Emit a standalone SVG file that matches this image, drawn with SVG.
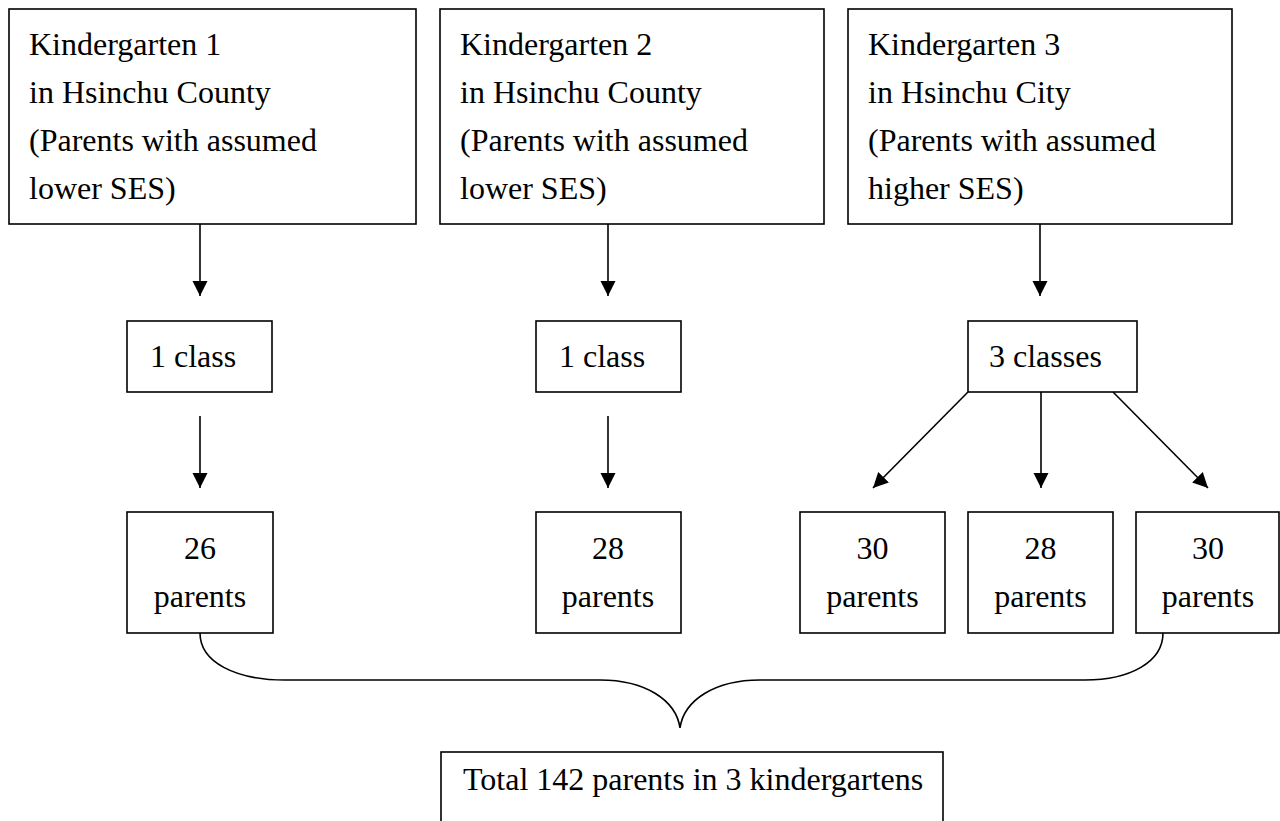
<svg xmlns="http://www.w3.org/2000/svg" width="1280" height="821" viewBox="0 0 1280 821">
<style>
  .box{fill:#fff;stroke:#000;stroke-width:1.6}
  .t{font-family:"Liberation Serif","Times New Roman",serif;font-size:32px;fill:#000}
  .c{text-anchor:middle}
  .edge{fill:none;stroke:#000;stroke-width:1.6}
</style>
<defs>
  <marker id="arr" markerUnits="userSpaceOnUse" markerWidth="16" markerHeight="16" viewBox="0 0 16 16" refX="15" refY="8" orient="auto">
    <path d="M0,0.5 L15,8 L0,15.5 Z" fill="#000"/>
  </marker>
</defs>
<rect width="1280" height="821" fill="#fff"/>

<g id="connectors">
  <line class="edge" x1="200" y1="224" x2="200" y2="296" marker-end="url(#arr)"/>
  <line class="edge" x1="608" y1="224" x2="608" y2="296" marker-end="url(#arr)"/>
  <line class="edge" x1="1040" y1="224" x2="1040" y2="296" marker-end="url(#arr)"/>
  <line class="edge" x1="200" y1="416" x2="200" y2="488" marker-end="url(#arr)"/>
  <line class="edge" x1="608" y1="416" x2="608" y2="488" marker-end="url(#arr)"/>
  <line class="edge" x1="1041" y1="392" x2="1041" y2="488" marker-end="url(#arr)"/>
  <line class="edge" x1="968" y1="392" x2="873" y2="488" marker-end="url(#arr)"/>
  <line class="edge" x1="1113" y1="392" x2="1208" y2="488" marker-end="url(#arr)"/>
  <path class="edge" d="M200,633 C200,662 235,680 285,680 L600,680 C645,680 676,700 680,728 C684,700 715,680 760,680 L1085,680 C1130,680 1163,662 1163,633"/>
</g>

<g id="k1">
  <rect class="box" x="9" y="9" width="407" height="215"/>
  <text class="t" x="29" y="55">Kindergarten 1</text>
  <text class="t" x="29" y="103">in Hsinchu County</text>
  <text class="t" x="29" y="151">(Parents with assumed</text>
  <text class="t" x="29" y="199">lower SES)</text>
</g>
<g id="k2">
  <rect class="box" x="440" y="9" width="384" height="215"/>
  <text class="t" x="460" y="55">Kindergarten 2</text>
  <text class="t" x="460" y="103">in Hsinchu County</text>
  <text class="t" x="460" y="151">(Parents with assumed</text>
  <text class="t" x="460" y="199">lower SES)</text>
</g>
<g id="k3">
  <rect class="box" x="848" y="9" width="384" height="215"/>
  <text class="t" x="868" y="55">Kindergarten 3</text>
  <text class="t" x="868" y="103">in Hsinchu City</text>
  <text class="t" x="868" y="151">(Parents with assumed</text>
  <text class="t" x="868" y="199">higher SES)</text>
</g>

<g id="c1">
  <rect class="box" x="127" y="321" width="145" height="71"/>
  <text class="t" x="150" y="367">1 class</text>
</g>
<g id="c2">
  <rect class="box" x="536" y="321" width="145" height="71"/>
  <text class="t" x="559" y="367">1 class</text>
</g>
<g id="c3">
  <rect class="box" x="968" y="321" width="169" height="71"/>
  <text class="t" x="989" y="367">3 classes</text>
</g>

<g id="p1">
  <rect class="box" x="127" y="512" width="146" height="121"/>
  <text class="t c" x="200" y="559">26</text>
  <text class="t c" x="200" y="607">parents</text>
</g>
<g id="p2">
  <rect class="box" x="536" y="512" width="145" height="121"/>
  <text class="t c" x="608" y="559">28</text>
  <text class="t c" x="608" y="607">parents</text>
</g>
<g id="p3">
  <rect class="box" x="800" y="512" width="145" height="121"/>
  <text class="t c" x="872.5" y="559">30</text>
  <text class="t c" x="872.5" y="607">parents</text>
</g>
<g id="p4">
  <rect class="box" x="968" y="512" width="145" height="121"/>
  <text class="t c" x="1040.5" y="559">28</text>
  <text class="t c" x="1040.5" y="607">parents</text>
</g>
<g id="p5">
  <rect class="box" x="1136" y="512" width="143" height="121"/>
  <text class="t c" x="1208" y="559">30</text>
  <text class="t c" x="1208" y="607">parents</text>
</g>

<g id="total">
  <rect class="box" x="441" y="752" width="502" height="80"/>
  <text class="t" x="463" y="790">Total 142 parents in 3 kindergartens</text>
</g>
</svg>
